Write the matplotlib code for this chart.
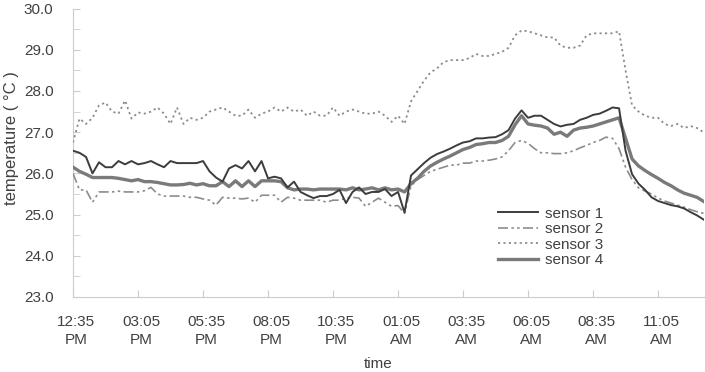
import matplotlib
matplotlib.use('Agg')
import matplotlib.pyplot as plt
import matplotlib.transforms as mtransforms
import numpy as np

# logger samples every 15 minutes, starting 12:35 PM
minutes = np.arange(0, 1456, 15)

tick_minutes = [0, 150, 300, 450, 600, 750, 900, 1050, 1200, 1350]
tick_labels = ['12:35\nPM', '03:05\nPM', '05:35\nPM', '08:05\nPM', '10:35\nPM',
               '01:05\nAM', '03:35\nAM', '06:05\nAM', '08:35\nAM', '11:05\nAM']

sensor1 = [26.55, 26.5, 26.4, 26.0, 26.27, 26.15, 26.15, 26.3, 26.22, 26.3,
           26.22, 26.25, 26.3, 26.22, 26.15, 26.3, 26.25, 26.25, 26.25, 26.25,
           26.3, 26.05, 25.9, 25.8, 26.12, 26.2, 26.12, 26.3, 26.05, 26.3,
           25.88, 25.92, 25.88, 25.66, 25.8, 25.55, 25.47, 25.4, 25.45, 25.45,
           25.5, 25.6, 25.28, 25.55, 25.66, 25.5, 25.55, 25.55, 25.62, 25.45,
           25.55, 25.05, 25.95, 26.1, 26.25, 26.38, 26.47, 26.53, 26.6, 26.68,
           26.75, 26.78, 26.85, 26.85, 26.87, 26.88, 26.95, 27.05, 27.33, 27.53,
           27.35, 27.4, 27.4, 27.3, 27.2, 27.14, 27.18, 27.2, 27.3, 27.35,
           27.42, 27.45, 27.52, 27.6, 27.58, 26.55, 25.98, 25.75, 25.6, 25.42,
           25.33, 25.28, 25.23, 25.2, 25.15, 25.06, 24.98, 24.88]

sensor2 = [26.0, 25.6, 25.6, 25.3, 25.55, 25.55, 25.55, 25.57, 25.55, 25.55,
           25.55, 25.58, 25.66, 25.5, 25.45, 25.45, 25.45, 25.45, 25.42, 25.42,
           25.38, 25.35, 25.23, 25.42, 25.4, 25.4, 25.38, 25.4, 25.3, 25.47,
           25.47, 25.47, 25.3, 25.42, 25.4, 25.35, 25.35, 25.35, 25.35, 25.3,
           25.35, 25.35, 25.4, 25.42, 25.4, 25.2, 25.3, 25.4, 25.3, 25.2,
           25.22, 25.03, 25.7, 25.85, 25.95, 26.05, 26.1, 26.15, 26.2, 26.2,
           26.25, 26.25, 26.3, 26.3, 26.32, 26.35, 26.4, 26.55, 26.75, 26.8,
           26.73, 26.6, 26.5, 26.5, 26.48, 26.48, 26.5, 26.55, 26.62, 26.68,
           26.75, 26.8, 26.88, 26.85, 26.6, 26.15, 25.85, 25.65, 25.57, 25.5,
           25.4, 25.33, 25.28, 25.23, 25.18, 25.12, 25.07, 25.03]

sensor3 = [26.75, 27.33, 27.2, 27.35, 27.65, 27.72, 27.5, 27.45, 27.77, 27.33,
           27.48, 27.45, 27.5, 27.6, 27.45, 27.2, 27.6, 27.2, 27.35, 27.3,
           27.35, 27.5, 27.55, 27.6, 27.5, 27.4, 27.4, 27.55, 27.35, 27.45,
           27.5, 27.6, 27.5, 27.6, 27.5, 27.55, 27.4, 27.5, 27.4, 27.4,
           27.6, 27.4, 27.5, 27.55, 27.5, 27.45, 27.45, 27.5, 27.4, 27.25,
           27.4, 27.2, 27.75, 28.0, 28.25, 28.45, 28.55, 28.7, 28.75, 28.75,
           28.75, 28.8, 28.9, 28.85, 28.85, 28.9, 28.95, 29.05, 29.35, 29.47,
           29.45, 29.4, 29.35, 29.3, 29.3, 29.1, 29.05, 29.05, 29.1, 29.35,
           29.4, 29.4, 29.4, 29.4, 29.45, 28.5, 27.65, 27.5, 27.4, 27.35,
           27.35, 27.2, 27.15, 27.2, 27.1, 27.15, 27.1, 27.0]

sensor4 = [26.15, 26.05, 25.98, 25.9, 25.9, 25.9, 25.9, 25.88, 25.85, 25.82,
           25.85, 25.8, 25.8, 25.78, 25.75, 25.72, 25.72, 25.73, 25.76, 25.72,
           25.75, 25.7, 25.7, 25.8, 25.68, 25.82, 25.68, 25.82, 25.68, 25.82,
           25.82, 25.82, 25.8, 25.65, 25.6, 25.62, 25.62, 25.6, 25.62, 25.62,
           25.62, 25.62, 25.6, 25.65, 25.6, 25.62, 25.65, 25.6, 25.65, 25.6,
           25.62, 25.55, 25.75, 25.88, 26.05, 26.18, 26.27, 26.35, 26.42, 26.5,
           26.58, 26.63, 26.7, 26.72, 26.75, 26.75, 26.8, 26.9, 27.18, 27.4,
           27.2, 27.17, 27.15, 27.1, 26.95, 27.0, 26.9, 27.05, 27.1, 27.12,
           27.15, 27.2, 27.25, 27.3, 27.35, 26.85, 26.35, 26.18, 26.07, 25.97,
           25.88, 25.78, 25.7, 25.6, 25.52, 25.47, 25.42, 25.32]

TEXT = '#404040'
AXIS = '#cccccc'

plt.rcParams['font.family'] = ['Liberation Sans', 'DejaVu Sans']

fig = plt.figure(figsize=(7.05, 3.72), dpi=100)
ax = fig.add_axes([73 / 705, 1 - 297 / 372, 631 / 705, 288.4 / 372])

ax.plot(minutes, sensor1, color='#3c3c3c', lw=1.4, label='sensor 1', zorder=5)
ax.plot(minutes, sensor2, color='#8c8c8c', lw=1.2, dashes=(6, 2, 1.5, 2, 1.5, 2),
        label='sensor 2', zorder=3)
ax.plot(minutes, sensor3, color='#8c8c8c', lw=1.3, dashes=(1.2, 1.8),
        label='sensor 3', zorder=3)
ax.plot(minutes, sensor4, color='#7a7a7a', lw=2.4, label='sensor 4', zorder=4)

ax.set_xlim(0, 1456)
ax.set_ylim(23, 30)

ax.set_yticks(np.arange(23, 30.5, 1))
ax.set_yticklabels(['%.1f' % v for v in np.arange(23, 30.5, 1)])
ax.set_yticks(np.arange(23.5, 30, 1), minor=True)
ax.set_xticks(tick_minutes)
ax.set_xticklabels(tick_labels, linespacing=1.35)

ax.tick_params(axis='y', which='both', direction='in', length=5, color=AXIS,
               pad=14, labelsize=11, labelcolor=TEXT)
ax.tick_params(axis='x', direction='in', length=5, color=AXIS,
               pad=13, labelsize=11, labelcolor=TEXT)

# labels sit a touch right of their ticks
offset = mtransforms.ScaledTranslation(3 / 100, 0, fig.dpi_scale_trans)
for lab in ax.get_xticklabels():
    lab.set_transform(lab.get_transform() + offset)

for side in ['top', 'right']:
    ax.spines[side].set_visible(False)
for side in ['left', 'bottom']:
    ax.spines[side].set_color(AXIS)

ax.set_ylabel('temperature ( °C )', fontsize=12, color=TEXT)
ax.yaxis.set_label_coords(-0.085, 0.55)
fig.text(378 / 705, 1 - 368 / 372, 'time', ha='center', va='baseline',
         fontsize=11, color=TEXT)

leg = ax.legend(loc='upper left', bbox_to_anchor=(0.6735, 0.313), frameon=False,
                fontsize=11, handlelength=2.6, handletextpad=0.45,
                labelspacing=0.1, borderpad=0, borderaxespad=0)
for t in leg.get_texts():
    t.set_color(TEXT)

fig.savefig('out.png', dpi=100)
